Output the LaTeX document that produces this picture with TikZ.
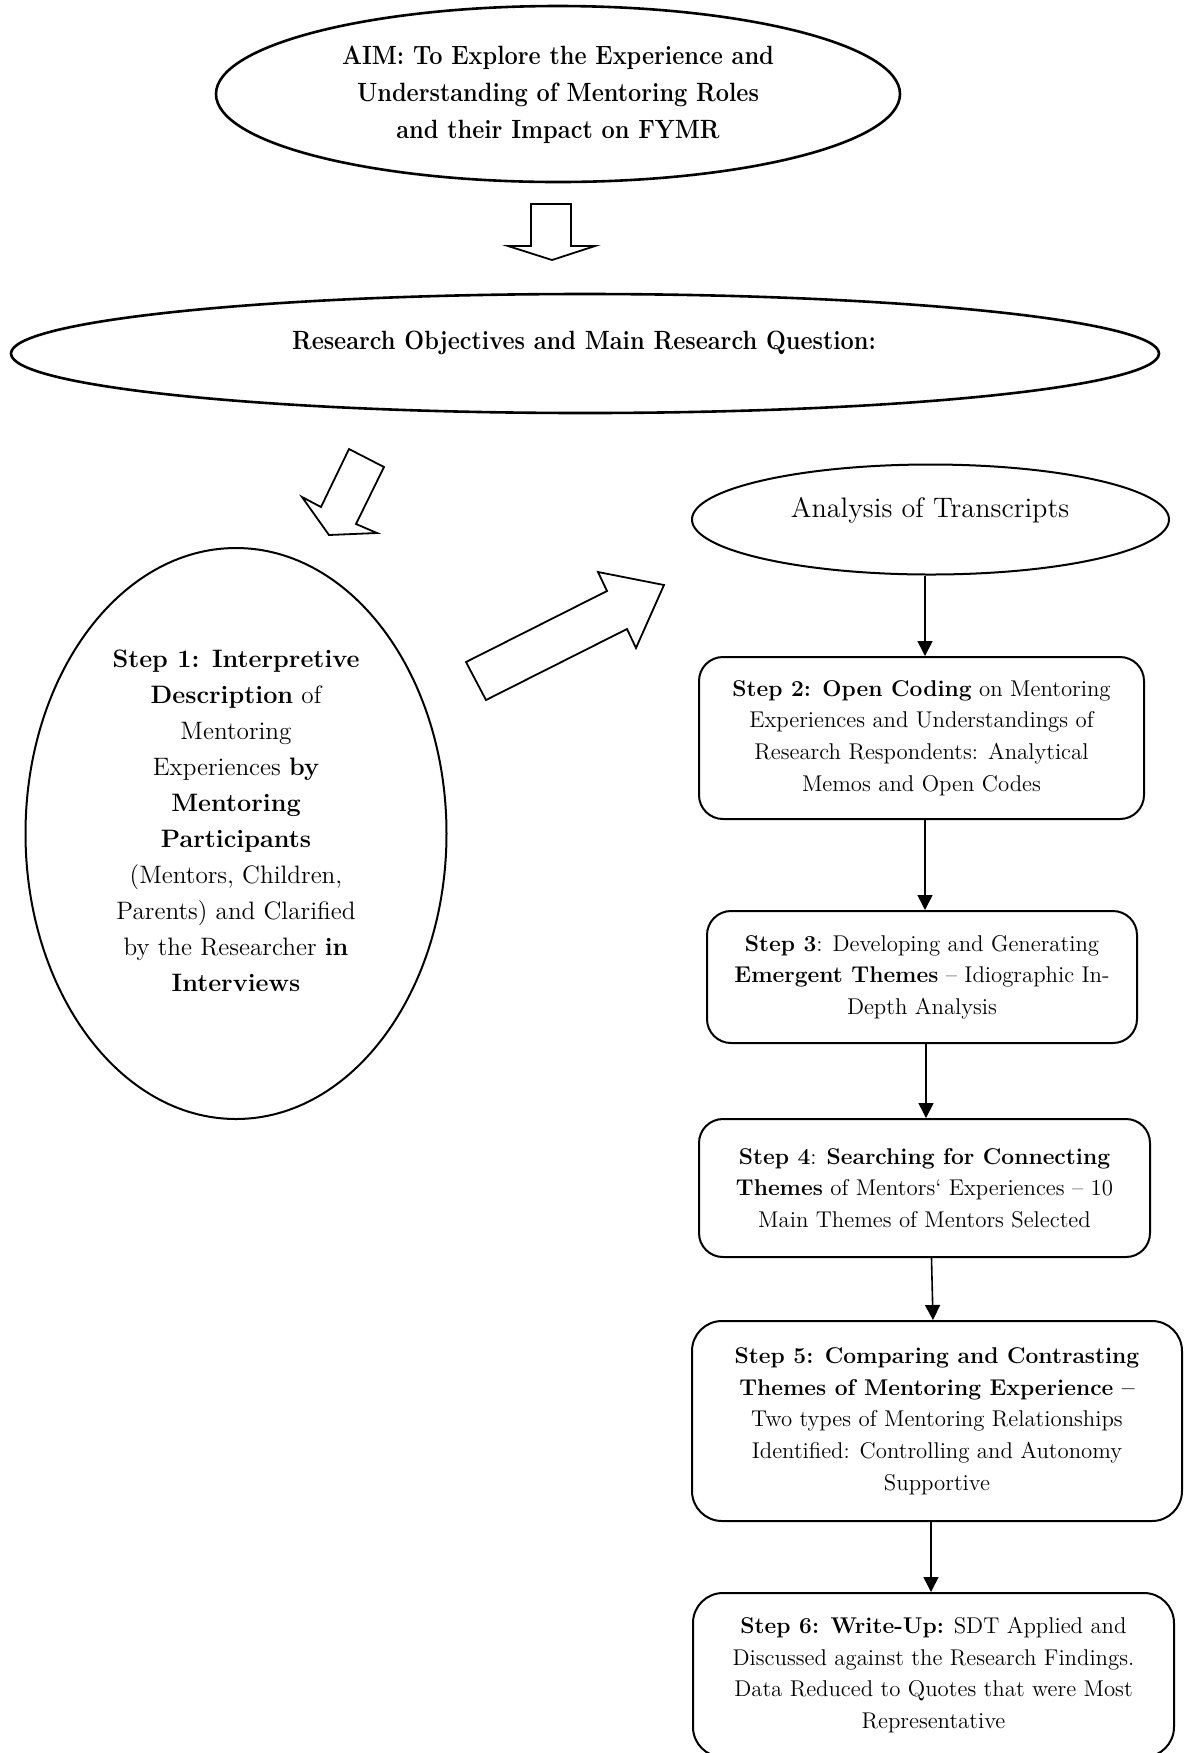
\documentclass[tikz,border=0pt]{standalone}
\usepackage{graphicx}
\usetikzlibrary{shapes.geometric,arrows.meta}

% font sizes used in the chart
\newcommand{\boxfont}{\fontsize{11.4}{15.85}\selectfont}
\newcommand{\ovalfont}{\fontsize{12.6}{18}\selectfont}
\newcommand{\headfont}{\fontsize{13.2}{18.5}\selectfont\bfseries}
\newcommand{\anafont}{\fontsize{14.1}{17}\selectfont}
% narrow bold heading lines
\newcommand{\narrow}[1]{\scalebox{0.89}[1]{\begin{tabular}{@{}c@{}}#1\end{tabular}}}

\begin{document}
\begin{tikzpicture}[x=0.5pt,y=-0.5pt,
  stepbox/.style={draw,line width=1pt,rounded corners=12pt,align=center,
    inner sep=0pt,font=\boxfont},
  bigoval/.style={draw,ellipse,line width=1.3pt,inner sep=0pt},
  oval/.style={draw,ellipse,line width=1pt,inner sep=0pt},
  conn/.style={line width=0.8pt,-{Triangle[length=7.5pt,width=7.5pt]}},
  block/.style={draw,line width=0.9pt,fill=white,line join=miter}
]
\clip (0,0) rectangle (1189,1753);
\fill[white] (0,0) rectangle (1189,1753);

% aim and objectives
\node[bigoval,minimum width=342pt,minimum height=88pt] (aim) at (558,94)
  {\headfont\narrow{AIM: To Explore the Experience and\\
   Understanding of Mentoring Roles\\ and their Impact on FYMR}};
\node[bigoval,minimum width=574pt,minimum height=59.5pt] (obj) at (585,353.5) {};
\node (objtext) at (584,342)
  {\headfont\narrow{Research Objectives and Main Research Question:}};

% block arrows
\draw[block] (531,204) -- (571,204) -- (571,246) -- (595,246) -- (552,260)
  -- (508,246) -- (531,246) -- cycle;
\draw[block] (349,449) -- (384,467) -- (356,524) -- (377,533) -- (329,535)
  -- (302,497) -- (321,507) -- cycle;
\draw[block] (466,662) -- (607,591) -- (598,572) -- (664,585) -- (636,648)
  -- (627,629) -- (486,700) -- cycle;

% step 1
\node[oval,minimum width=210.5pt,minimum height=285.5pt] (s1) at (236,833.5) {};
\node[align=center,font=\ovalfont,inner sep=0pt] (s1text) at (236,821)
  {\textbf{Step 1: Interpretive}\\ \textbf{Description} of\\ Mentoring\\
   Experiences \textbf{by}\\ \textbf{Mentoring}\\ \textbf{Participants}\\
   (Mentors, Children,\\ Parents) and Clarified\\
   by the Researcher \textbf{in}\\ \textbf{Interviews}};

% analysis column
\node[oval,minimum width=238.5pt,minimum height=55pt] (ana) at (930.5,519.5) {};
\node[font=\anafont,inner sep=0pt] (anatext) at (930,510) {Analysis of Transcripts};

\node[stepbox,minimum width=222.5pt,minimum height=81pt] (b2) at (921.5,738)
  {\textbf{Step 2: Open Coding} on Mentoring\\ Experiences and Understandings of\\
   Research Respondents: Analytical\\ Memos and Open Codes};
\node[stepbox,minimum width=215pt,minimum height=66pt] (b3) at (922,977)
  {\textbf{Step 3}: Developing and Generating\\
   \textbf{Emergent Themes} – Idiographic In-\\ Depth Analysis};
\node[stepbox,minimum width=225.5pt,minimum height=69pt] (b4) at (924.5,1188)
  {\textbf{Step 4}: \textbf{Searching for Connecting}\\
   \textbf{Themes} of Mentors‘ Experiences – 10\\ Main Themes of Mentors Selected};
\node[stepbox,rounded corners=15pt,minimum width=245pt,minimum height=100pt] (b5) at (937,1421)
  {\textbf{Step 5: Comparing and Contrasting}\\
   \textbf{Themes of Mentoring Experience –}\\ Two types of Mentoring Relationships\\
   Identified: Controlling and Autonomy\\ Supportive};
\node[stepbox,rounded corners=15pt,minimum width=240.5pt,minimum height=82pt] (b6) at (933.5,1675)
  {\textbf{Step 6: Write-Up:} SDT Applied and\\
   Discussed against the Research Findings.\\
   Data Reduced to Quotes that were Most\\ Representative};

% connectors
\draw[conn] ([xshift=-2.75pt]ana.south) -- ([xshift=1.75pt]b2.north);
\draw[conn] ([xshift=1.75pt]b2.south) -- ([xshift=1.5pt]b3.north);
\draw[conn] ([xshift=2pt]b3.south) -- ([xshift=0.75pt]b4.north);
\draw[conn] ([xshift=3.5pt]b4.south) -- ([xshift=-2pt]b5.north);
\draw[conn] ([xshift=-3pt]b5.south) -- ([xshift=-1.25pt]b6.north);
\end{tikzpicture}
\end{document}
